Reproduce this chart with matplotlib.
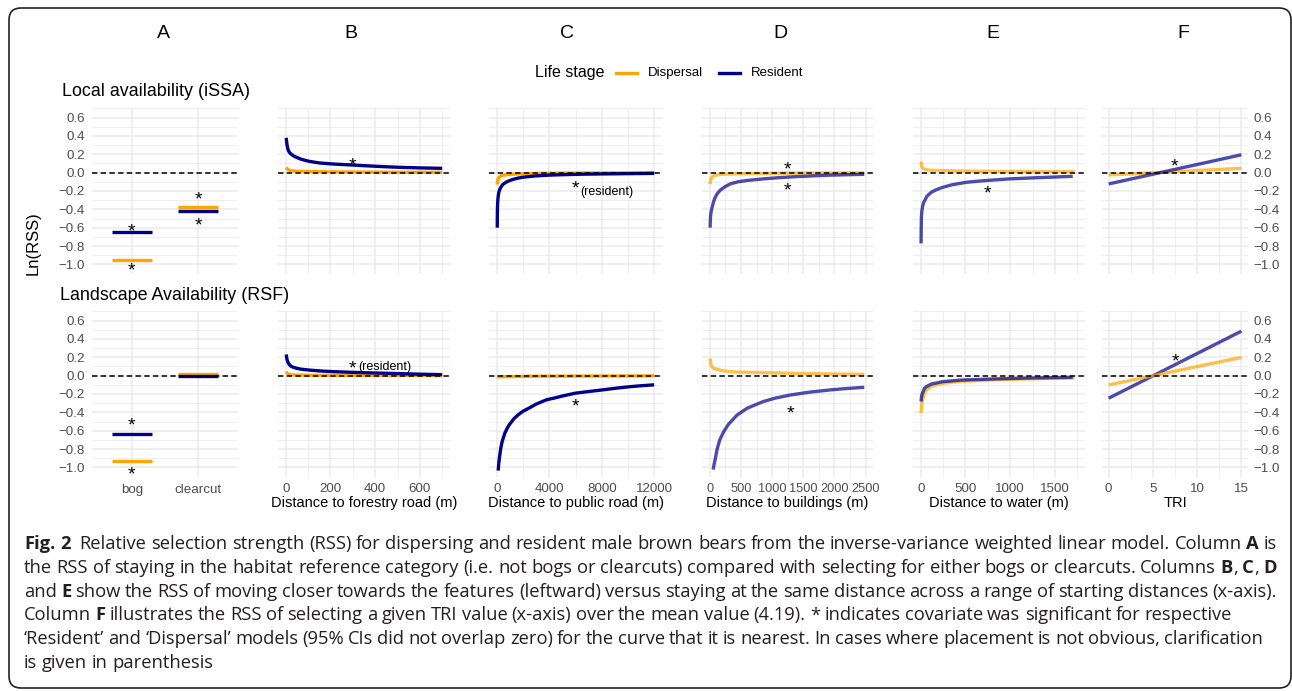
import re
import matplotlib
matplotlib.use('Agg')
import matplotlib.pyplot as plt
import matplotlib.patches as mpatches
from matplotlib.lines import Line2D
from matplotlib.ticker import MultipleLocator
from matplotlib.transforms import IdentityTransform

plt.rcParams['font.family'] = ['Liberation Sans', 'DejaVu Sans']

W, H = 1292, 691
ORANGE = '#FFA500'
NAVY = '#00008B'

# ---- data ----
habitat = ['bog', 'clearcut']
a_local_res = [-0.65, -0.42]
a_local_dis = [-0.95, -0.37]
a_land_res = [-0.64, 0.0]
a_land_dis = [-0.93, 0.02]

# B: distance to forestry road
b_local_res_x = [2, 3, 5, 8, 12, 18, 25, 35, 49, 70, 100, 130, 154, 190, 220, 260, 299, 350, 400, 450, 512, 600, 700]
b_local_res_y = [0.38, 0.35, 0.31, 0.27, 0.238, 0.215, 0.2, 0.182, 0.166, 0.145, 0.126, 0.113, 0.105, 0.098,
                 0.093, 0.088, 0.083, 0.076, 0.07, 0.064, 0.058, 0.052, 0.047]
b_local_dis_x = [2, 5, 10, 20, 50, 150, 300, 500, 700]
b_local_dis_y = [0.058, 0.045, 0.035, 0.022, 0.015, 0.01, 0.007, 0.005, 0.004]
b_land_res_x = [2, 3, 5, 8, 12, 18, 25, 35, 49, 70, 100, 154, 220, 300, 400, 512, 600, 700]
b_land_res_y = [0.231, 0.21, 0.18, 0.155, 0.134, 0.115, 0.1, 0.09, 0.08, 0.07, 0.062, 0.051, 0.043, 0.036,
                0.029, 0.022, 0.016, 0.011]
b_land_dis_x = [2, 5, 10, 20, 50, 200, 700]
b_land_dis_y = [0.043, 0.03, 0.02, 0.01, 0.006, 0.003, 0.001]

# C: distance to public road
c_local_res_x = [30, 33, 36, 40, 50, 60, 80, 100, 150, 230, 320, 450, 690, 900, 1200, 1500, 1970, 2500, 3000,
                 4000, 5050, 6500, 8000, 10000, 12000]
c_local_res_y = [-0.6, -0.52, -0.47, -0.42, -0.36, -0.33, -0.29, -0.26, -0.215, -0.18, -0.155, -0.13, -0.105,
                 -0.09, -0.075, -0.063, -0.05, -0.042, -0.035, -0.027, -0.022, -0.017, -0.014, -0.011, -0.008]
c_local_dis_x = [30, 40, 60, 100, 150, 250, 400, 600, 790, 1200, 2000, 3000, 4200, 7000, 12000]
c_local_dis_y = [-0.13, -0.11, -0.09, -0.07, -0.055, -0.04, -0.03, -0.025, -0.022, -0.017, -0.012, -0.009,
                 -0.006, -0.003, -0.001]
c_land_res_x = [100, 150, 200, 300, 400, 600, 800, 950, 1300, 1600, 1970, 2500, 3000, 3770, 4500, 5000, 5950,
                7000, 8020, 9000, 10180, 11000, 12000]
c_land_res_y = [-1.035, -0.95, -0.89, -0.79, -0.72, -0.63, -0.57, -0.535, -0.47, -0.43, -0.39, -0.35, -0.31,
                -0.264, -0.24, -0.222, -0.192, -0.173, -0.156, -0.138, -0.12, -0.11, -0.10]
c_land_dis_x = [0, 3000, 12000]
c_land_dis_y = [-0.012, -0.006, -0.002]

# D: distance to buildings
d_local_res_x = [5, 8, 12, 20, 38, 60, 80, 118, 170, 240, 330, 450, 600, 860, 1100, 1390, 1900, 2480]
d_local_res_y = [-0.6, -0.53, -0.48, -0.43, -0.375, -0.32, -0.28, -0.23, -0.19, -0.155, -0.122, -0.1, -0.085,
                 -0.068, -0.055, -0.043, -0.028, -0.018]
d_local_dis_x = [5, 10, 15, 25, 38, 60, 100, 170, 280, 400, 600, 860, 1500, 2480]
d_local_dis_y = [-0.126, -0.095, -0.075, -0.058, -0.045, -0.036, -0.028, -0.02, -0.015, -0.012, -0.01, -0.008,
                 -0.004, -0.002]
d_land_res_x = [54, 70, 90, 118, 160, 224, 300, 437, 600, 860, 1050, 1300, 1600, 1925, 2200, 2480]
d_land_res_y = [-1.024, -0.965, -0.9, -0.8, -0.7, -0.61, -0.53, -0.43, -0.355, -0.282, -0.245, -0.21, -0.18,
                -0.156, -0.14, -0.127]
d_land_dis_x = [5, 12, 20, 32, 60, 118, 200, 330, 550, 860, 1390, 1900, 2480]
d_land_dis_y = [0.188, 0.14, 0.115, 0.098, 0.08, 0.069, 0.055, 0.043, 0.037, 0.033, 0.025, 0.019, 0.014]

# E: distance to water
e_local_res_x = [3, 5, 7, 12, 20, 30, 45, 70, 119, 180, 249, 350, 510, 700, 993, 1300, 1700]
e_local_res_y = [-0.771, -0.6, -0.483, -0.42, -0.37, -0.33, -0.303, -0.255, -0.213, -0.183, -0.159, -0.132,
                 -0.105, -0.088, -0.068, -0.055, -0.04]
e_local_dis_x = [3, 8, 15, 30, 63, 120, 249, 500, 807, 1200, 1720]
e_local_dis_y = [0.122, 0.08, 0.058, 0.042, 0.032, 0.026, 0.022, 0.017, 0.014, 0.012, 0.011]
e_land_res_x = [3, 8, 15, 26, 40, 63, 120, 249, 450, 807, 1200, 1700]
e_land_res_y = [-0.282, -0.23, -0.2, -0.174, -0.14, -0.119, -0.09, -0.065, -0.048, -0.036, -0.026, -0.018]
e_land_dis_x = [3, 8, 15, 26, 40, 63, 120, 249, 450, 807, 1200, 1720]
e_land_dis_y = [-0.409, -0.33, -0.285, -0.246, -0.195, -0.156, -0.115, -0.083, -0.062, -0.047, -0.035, -0.025]

# F: TRI
tri = [0, 15]
f_local_res = [-0.123, 0.195]
f_local_dis = [-0.025, 0.047]
f_land_res = [-0.246, 0.485]
f_land_dis = [-0.101, 0.199]

fig = plt.figure(figsize=(W / 100, H / 100), dpi=100)


def px_axes(x0, x1, y0, y1):
    return fig.add_axes([x0 / W, 1 - y1 / H, (x1 - x0) / W, (y1 - y0) / H])


def style(ax, xlim, major, minor):
    ax.set_xlim(*xlim)
    ax.set_ylim(-1.105, 0.705)
    ax.xaxis.set_major_locator(MultipleLocator(major))
    if minor:
        ax.xaxis.set_minor_locator(MultipleLocator(minor))
    ax.yaxis.set_major_locator(MultipleLocator(0.2))
    ax.yaxis.set_minor_locator(MultipleLocator(0.1))
    ax.grid(which='major', color='#EBEBEB', lw=1.1)
    ax.grid(which='minor', color='#EBEBEB', lw=0.6)
    ax.set_axisbelow(True)
    for s in ax.spines.values():
        s.set_visible(False)
    ax.tick_params(which='both', length=0, labelleft=False, labelbottom=False,
                   labelsize=9.6, labelcolor='#4D4D4D', pad=4)
    ax.axhline(0, color='black', lw=1.1, ls=(0, (3.5, 2.2)), zorder=4)


def star(ax, x, y):
    ax.annotate('*', (x, y), xytext=(0, -8), textcoords='offset points',
                ha='center', va='baseline', fontsize=14, zorder=5)


cols = [(92, 238), (278, 450), (489, 662), (702, 873), (913, 1085), (1102, 1248)]
rows = [(108, 274), (311, 477)]
xlabels = ['', 'Distance to forestry road (m)', 'Distance to public road (m)',
           'Distance to buildings (m)', 'Distance to water (m)', 'TRI']
xspec = [None, ((-35, 735), 200, 100), ((-600, 12600), 4000, 2000),
         ((-125, 2620), 500, 250), ((-87, 1837), 500, 250), ((-0.75, 15.75), 5, 2.5)]

curves = [
    [None,
     [(b_local_dis_x, b_local_dis_y, ORANGE), (b_local_res_x, b_local_res_y, NAVY)],
     [(c_local_dis_x, c_local_dis_y, ORANGE), (c_local_res_x, c_local_res_y, NAVY)],
     [(d_local_dis_x, d_local_dis_y, ORANGE), (d_local_res_x, d_local_res_y, NAVY)],
     [(e_local_dis_x, e_local_dis_y, ORANGE), (e_local_res_x, e_local_res_y, NAVY)],
     [(tri, f_local_dis, ORANGE), (tri, f_local_res, NAVY)]],
    [None,
     [(b_land_dis_x, b_land_dis_y, ORANGE), (b_land_res_x, b_land_res_y, NAVY)],
     [(c_land_dis_x, c_land_dis_y, ORANGE), (c_land_res_x, c_land_res_y, NAVY)],
     [(d_land_dis_x, d_land_dis_y, ORANGE), (d_land_res_x, d_land_res_y, NAVY)],
     [(e_land_dis_x, e_land_dis_y, ORANGE), (e_land_res_x, e_land_res_y, NAVY)],
     [(tri, f_land_res, NAVY), (tri, f_land_dis, ORANGE)]],
]
stars = [
    [[(1, -0.573), (1, -1.005), (2, -0.224), (2, -0.508)], [(300, 0.148)], [(6000, -0.105)],
     [(1240, 0.10), (1240, -0.133)], [(750, -0.159)], [(7.4, 0.137)]],
    [[(1, -0.48), (1, -1.013)], [(300, 0.141)], [(6000, -0.264)],
     [(1290, -0.347)], [], [(7.5, 0.225)]],
]
notes = {(0, 2): (6330, -0.213), (1, 1): (324, 0.098)}
habitat_rows = [(a_local_dis, a_local_res), (a_land_dis, a_land_res)]

for r, (y0, y1) in enumerate(rows):
    for c, (x0, x1) in enumerate(cols):
        ax = px_axes(x0, x1, y0, y1)
        if c == 0:
            style(ax, (0.4, 2.6), 1, None)
            pos = [1, 2]
            dis, res = habitat_rows[r]
            ax.hlines(dis, [p - 0.3 for p in pos], [p + 0.3 for p in pos], color=ORANGE, lw=2.4, zorder=3)
            ax.hlines(res, [p - 0.3 for p in pos], [p + 0.3 for p in pos], color=NAVY, lw=2.4, zorder=3)
            ax.set_xticks(pos)
            ax.set_xticklabels(habitat)
            ax.tick_params(labelleft=True, pad=5)
            if r == 1:
                ax.tick_params(labelbottom=True)
        else:
            lim, mj, mn = xspec[c]
            style(ax, lim, mj, mn)
            alpha = 0.7 if c >= 3 else 1.0
            for xs, ys, col in curves[r][c]:
                ax.plot(xs, ys, color=col, lw=2.4, alpha=alpha, solid_capstyle='butt',
                        solid_joinstyle='round', zorder=3)
            if r == 1:
                ax.tick_params(labelbottom=True)
                if c == 3:
                    ax.tick_params(axis='x', labelsize=9.2)
                ax.set_xlabel(xlabels[c], fontsize=10.5, labelpad=1)
            if c == 5:
                ax.yaxis.tick_right()
                ax.tick_params(which='both', length=0, labelright=True, pad=4)
        for sx, sy in stars[r][c]:
            star(ax, sx, sy)
        if (r, c) in notes:
            nx, ny = notes[(r, c)]
            ax.text(nx, ny, '(resident)', fontsize=9, ha='left', va='center', zorder=5)

# column letters, row titles, y label
for letter, lx in zip('ABCDEF', [163, 351, 567, 780, 993, 1183]):
    fig.text(lx / W, 1 - 33 / H, letter, fontsize=14, ha='center', va='center')
fig.text(62 / W, 1 - 91 / H, 'Local availability (iSSA)', fontsize=12.9, ha='left', va='center')
fig.text(60 / W, 1 - 295 / H, 'Landscape Availability (RSF)', fontsize=12.9, ha='left', va='center')
fig.text(33 / W, 1 - 243 / H, 'Ln(RSS)', fontsize=12, rotation=90, ha='center', va='center')

# legend
fig.text(535 / W, 1 - 73 / H, 'Life stage', fontsize=11.5, ha='left', va='center')
for (lx0, lx1), col, tx, lab in [((616, 637), ORANGE, 648, 'Dispersal'), ((719, 740), NAVY, 751, 'Resident')]:
    fig.add_artist(Line2D([lx0 / W, lx1 / W], [1 - 73 / H] * 2, transform=fig.transFigure, color=col, lw=2.4))
    fig.text(tx / W, 1 - 73 / H, lab, fontsize=9.5, ha='left', va='center')

# border
fig.add_artist(mpatches.FancyBboxPatch((9, H - 688), 1282, 680, boxstyle='round,pad=0,rounding_size=12',
                                       transform=IdentityTransform(), fill=False, lw=1.2, ec='#222222'))

# caption (word by word, each line stretched to the printed right edge)
CAP_FONT = ['Open Sans', 'DejaVu Sans']
cap_lines = [
    ('**Fig.** **2**\t Relative selection strength (RSS) for dispersing and resident male brown bears from the '
     'inverse-variance weighted linear model. Column **A** is', 1277),
    ('the RSS of staying in the habitat reference category (i.e. not bogs or clearcuts) compared with '
     'selecting for either bogs or clearcuts. Columns **B**, **C**, **D**', 1277),
    ('and **E** show the RSS of moving closer towards the features (leftward) versus staying at the same '
     'distance across a range of starting distances (x-axis).', 1277),
    ('Column **F** illustrates the RSS of selecting a given TRI value (x-axis) over the mean value (4.19). '
     '* indicates covariate was significant for respective', 1232),
    ('\u2018Resident\u2019 and \u2018Dispersal\u2019 models (95% CIs did not overlap zero) for the curve '
     'that it is nearest. In cases where placement is not obvious, clarification', 1263),
    ('is given in parenthesis', None),
]
renderer = fig.canvas.get_renderer()


def seg_width(s, bold, fs):
    t = fig.text(0, 0, s, fontsize=fs, family=CAP_FONT, fontweight='bold' if bold else 'normal')
    w = t.get_window_extent(renderer).width
    t.remove()
    return w


def split_word(word):
    parts = re.split(r'(\*\*.+?\*\*)', word)
    return [(p[2:-2], True) if p.startswith('**') and len(p) > 4 else (p, False) for p in parts if p]


base = 10
space10 = seg_width('a a', False, base) - seg_width('aa', False, base)
first = cap_lines[0][0].replace('\t', '').split(' ')
nat = sum(seg_width(s, b, base) for w in first if w for s, b in split_word(w)) + space10 * (len(first) - 1)
CAP_FS = base * (1277 - 24) / nat
space = space10 * CAP_FS / base

for i, (line, right) in enumerate(cap_lines):
    words = [w for w in line.split(' ') if w]
    widths = []
    weights = []
    for w in words:
        weights.append(2.0 if w.endswith('\t') else 1.0)
        widths.append(sum(seg_width(s, b, CAP_FS) for s, b in split_word(w.replace('\t', ''))))
    if right is None:
        gap = space
    else:
        gap = (right - 24 - sum(widths)) / sum(weights[:-1])
    x = 24.0
    yb = 1 - (549 + i * 23.8) / H
    for w, wd, wt in zip(words, widths, weights):
        xx = x
        for s, b in split_word(w.replace('\t', '')):
            fig.text(xx / W, yb, s, fontsize=CAP_FS, family=CAP_FONT, color='#231F20',
                     fontweight='bold' if b else 'normal', va='baseline', ha='left')
            xx += seg_width(s, b, CAP_FS)
        x += wd + gap * wt

fig.savefig('out.png', dpi=100)
